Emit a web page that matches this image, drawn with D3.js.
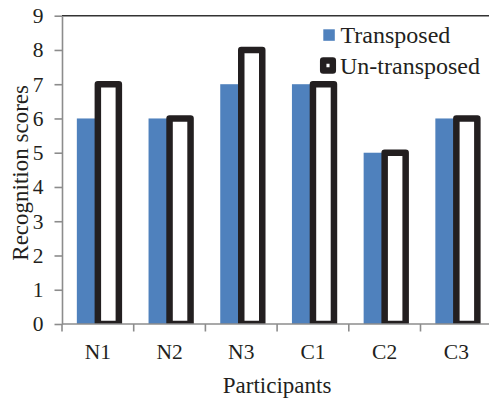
<!DOCTYPE html>
<html>
<head>
<meta charset="utf-8">
<script src="https://cdn.jsdelivr.net/npm/d3@7"></script>
<style>
  html, body { margin: 0; padding: 0; background: #fff; }
  svg { display: block; }
</style>
</head>
<body>
<svg id="chart" width="489" height="401"></svg>
<script>
// Recognition scores per participant
const participants = ["N1", "N2", "N3", "C1", "C2", "C3"];
const transposed   = [6, 6, 7, 7, 5, 6];
const untransposed = [7, 6, 8, 7, 5, 6];
const yTicks = [0, 1, 2, 3, 4, 5, 6, 7, 8, 9];
const seriesNames = ["Transposed", "Un-transposed"];

const blue = "#4f81bd";
const ink = "#231f20";
const axisGrey = "#8c8c8c";
const serif = '"Liberation Serif"';

const svg = d3.select("#chart");
const plot = { left: 62, right: 492.2, top: 15.7, bottom: 324 };

const y = d3.scaleLinear().domain([0, 9]).range([plot.bottom, plot.top]);

// category bands; the two bars fill the middle of each band
const groupPad = 0.414;
const x0 = d3.scaleBand().domain(participants)
  .range([plot.left, plot.right])
  .paddingInner(groupPad).paddingOuter(groupPad / 2);
const x1 = d3.scaleBand().domain(seriesNames).range([0, x0.bandwidth()]);

function label(sel, size) {
  sel.attr("font-family", null)
    .style("font-family", serif).style("font-size", size + "px").style("fill", ink);
}

// clip so the thick outlines stop at the baseline
svg.append("defs").append("clipPath").attr("id", "plotClip")
  .append("rect")
  .attr("x", plot.left).attr("y", 0)
  .attr("width", 489 - plot.left).attr("height", plot.bottom);

// top frame line
svg.append("line")
  .attr("x1", plot.left).attr("x2", 489)
  .attr("y1", y(9)).attr("y2", y(9))
  .attr("stroke", "#333").attr("stroke-width", 1.4);

const bars = svg.append("g").attr("clip-path", "url(#plotClip)");

bars.selectAll("rect.tr")
  .data(participants.map((p, i) => ({ p, v: transposed[i] })))
  .join("rect").attr("class", "tr")
  .attr("x", d => x0(d.p) + x1("Transposed"))
  .attr("width", x1.bandwidth())
  .attr("y", d => y(d.v))
  .attr("height", d => y(0) - y(d.v))
  .attr("fill", blue);

bars.selectAll("rect.un")
  .data(participants.map((p, i) => ({ p, v: untransposed[i] })))
  .join("rect").attr("class", "un")
  .attr("x", d => x0(d.p) + x1("Un-transposed"))
  .attr("width", x1.bandwidth())
  .attr("y", d => y(d.v))
  .attr("height", d => y(0) - y(d.v))
  .attr("fill", "#fff")
  .attr("stroke", ink)
  .attr("stroke-width", 6.5)
  .attr("stroke-linejoin", "round");

// y axis
const yAxis = svg.append("g")
  .attr("transform", `translate(${plot.left},0)`)
  .call(d3.axisLeft(y).tickValues(yTicks).tickFormat(d3.format("d"))
    .tickSize(7.5).tickPadding(11).tickSizeOuter(0))
  .call(label, 21.5);
yAxis.select(".domain").attr("stroke", axisGrey).attr("stroke-width", 1.6);
yAxis.selectAll(".tick line").attr("stroke", axisGrey).attr("stroke-width", 1.6);
yAxis.selectAll(".tick text").call(label, 21.5);

// x axis: labels centred on each category, ticks on the band edges
const xAxis = svg.append("g")
  .attr("transform", `translate(0,${plot.bottom})`)
  .call(d3.axisBottom(x0).tickSize(0).tickPadding(20).tickSizeOuter(0))
  .call(label, 21.5);
xAxis.select(".domain").remove();
xAxis.selectAll(".tick text").call(label, 21.5);

const edges = d3.range(participants.length + 1)
  .map(i => plot.left + i * x0.step());
xAxis.selectAll("line.edge").data(edges).join("line")
  .attr("class", "edge")
  .attr("x1", d => d).attr("x2", d => d)
  .attr("y1", 0).attr("y2", 7.5)
  .attr("stroke", axisGrey).attr("stroke-width", 1.6);
xAxis.append("line")
  .attr("x1", plot.left).attr("x2", 489)
  .attr("y1", 0).attr("y2", 0)
  .attr("stroke", axisGrey).attr("stroke-width", 1.6);

// axis titles
svg.append("text")
  .attr("x", (plot.left + plot.right) / 2).attr("y", 393)
  .attr("text-anchor", "middle")
  .call(label, 23)
  .text("Participants");
svg.append("text")
  .attr("transform", `translate(28,${(plot.top + plot.bottom) / 2 + 3}) rotate(-90)`)
  .attr("text-anchor", "middle")
  .call(label, 23)
  .text("Recognition scores");

// legend
const legend = svg.append("g");
legend.append("rect")
  .attr("x", 323.3).attr("y", 29.3).attr("width", 11.5).attr("height", 11.5)
  .attr("fill", blue);
legend.append("text").attr("x", 340.5).attr("y", 42.5)
  .call(label, 24).text(seriesNames[0]);
legend.append("rect")
  .attr("x", 323.2).attr("y", 60.5).attr("width", 9.6).attr("height", 10)
  .attr("fill", "#fff").attr("stroke", ink)
  .attr("stroke-width", 6.5).attr("stroke-linejoin", "round");
legend.append("text").attr("x", 340).attr("y", 73.7)
  .call(label, 24).text(seriesNames[1]);
</script>
</body>
</html>
